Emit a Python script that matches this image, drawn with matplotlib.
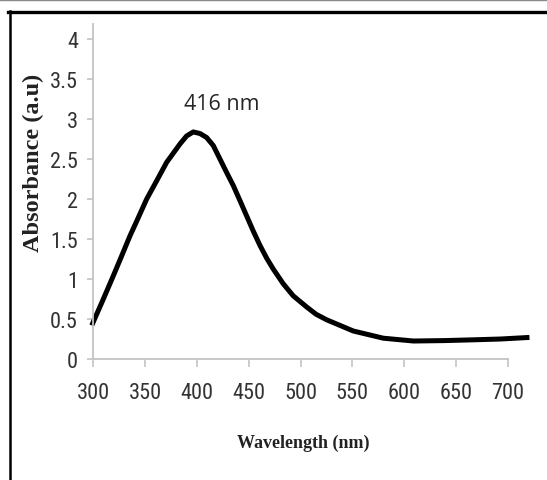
import numpy as np
import matplotlib
matplotlib.use('Agg')
from matplotlib import pyplot as plt
from matplotlib.lines import Line2D

# UV-Vis spectrum
wavelength = [298.5, 309.7, 319.3, 327.4, 335.4, 343.5, 351.5, 361.2, 370.8,
              383.7, 390.1, 396.5, 403.0, 409.4, 415.8, 422.3, 428.8, 435.1,
              441.6, 448.0, 454.4, 460.9, 467.4, 473.7, 483.4, 493.0, 506.0,
              515.0, 525.3, 551.0, 580.0, 609.0, 638.0, 667.0, 693.0, 721.0]
absorbance = [0.42, 0.75, 1.04, 1.29, 1.54, 1.77, 2.00, 2.23, 2.46,
              2.69, 2.79, 2.84, 2.82, 2.77, 2.67, 2.50, 2.33, 2.17,
              1.98, 1.79, 1.60, 1.42, 1.26, 1.125, 0.94, 0.79, 0.65,
              0.56, 0.49, 0.35, 0.26, 0.225, 0.23, 0.24, 0.25, 0.27]

x_ticks = [300, 350, 400, 450, 500, 550, 600, 650, 700]
y_ticks = [0, 0.5, 1, 1.5, 2, 2.5, 3, 3.5, 4]
y_tick_labels = ['0', '0.5', '1', '1.5', '2', '2.5', '3', '3.5', '4']

peak_label = '416 nm'

tick_font = ['Roboto Condensed', 'Liberation Sans']
serif = ['Liberation Serif', 'DejaVu Serif']

fig = plt.figure(figsize=(5.47, 4.81), dpi=100)
ax = fig.add_axes([93.3 / 547, 121 / 481, 414.4 / 547, 335 / 481])

ax.plot(wavelength, absorbance, color='black', linewidth=3.6,
        solid_capstyle='butt', solid_joinstyle='round', clip_on=False)

ax.set_xlim(300, 700)
ax.set_ylim(0, 4.19)

ax.set_xticks(x_ticks)
ax.set_xticklabels([str(v) for v in x_ticks], family=tick_font, fontsize=16,
                   color='#333333')
ax.set_yticks(y_ticks)
ax.set_yticklabels(y_tick_labels, family=tick_font, fontsize=16,
                   color='#333333')

for side in ['top', 'right']:
    ax.spines[side].set_visible(False)
for side in ['left', 'bottom']:
    ax.spines[side].set_color('#c4c4c4')
    ax.spines[side].set_linewidth(1.3)

ax.tick_params(axis='x', direction='out', length=5.5, width=1.2,
               color='#c4c4c4', pad=11)
ax.tick_params(axis='y', direction='out', length=4, width=1.2,
               color='#c4c4c4', pad=7)

ax.set_xlabel('Wavelength (nm)', family=serif, fontweight='bold',
              fontsize=13, color='#222222')
ax.xaxis.set_label_coords(0.506, -0.248)
ax.xaxis.label.set_va('center')

ax.set_ylabel('Absorbance (a.u)', family=serif, fontweight='bold',
              fontsize=17.5, color='#222222')
ax.yaxis.set_label_coords(-0.1455, 0.588)
ax.yaxis.label.set_va('center')

ax.text(424, 3.19, peak_label, ha='center', va='center', fontsize=15.5,
        family=['Open Sans', 'DejaVu Sans'], color='#262626')

# picture frame
fig.add_artist(Line2D([0, 1], [1 - 0.6 / 481, 1 - 0.6 / 481],
                      transform=fig.transFigure, color='#8a8a8a', linewidth=1.0))
fig.add_artist(Line2D([8 / 547, 1], [1 - 12.8 / 481, 1 - 12.8 / 481],
                      transform=fig.transFigure, color='black', linewidth=2.4))
fig.add_artist(Line2D([9.8 / 547, 9.8 / 547], [1 - 12 / 481, 0],
                      transform=fig.transFigure, color='black', linewidth=1.8))

fig.savefig('out.png', dpi=100)
